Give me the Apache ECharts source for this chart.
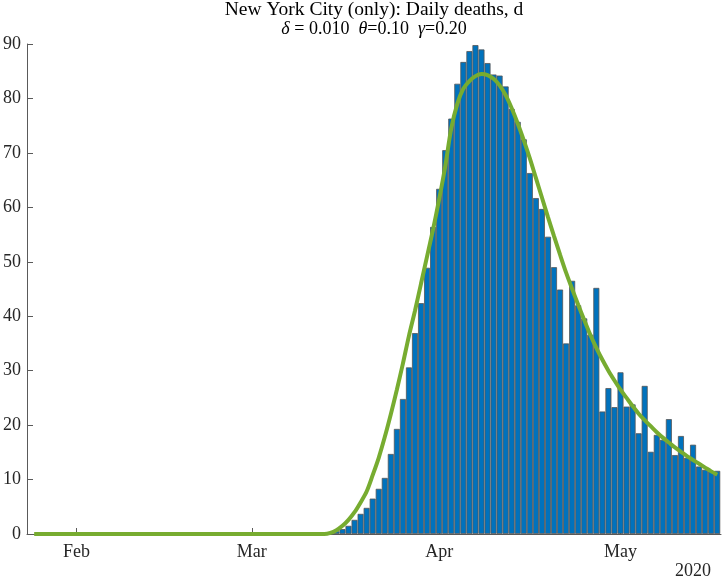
<!DOCTYPE html>
<html><head><meta charset="utf-8">
<script src="https://cdn.jsdelivr.net/npm/echarts@6/dist/echarts.min.js"></script>
<style>html,body{margin:0;padding:0;background:#fff}#c{width:725px;height:580px}</style>
</head><body><div id="c"></div><script>
// ---- data ----
const barStart = [2020, 2, 14]; // first bar: 14 Mar 2020 (daily bars)
const barValues = [
  0.3, 0.5, 0.9, 1.5, 2.6, 3.7, 4.8, 6.5, 8.3, 10.3,
  14.7, 19.3, 24.8, 30.6, 36.9, 42.4, 48.9, 56.4,
  63.4, 70.5, 76.3, 82.7, 86.7, 88.7, 89.8, 89.0, 86.5, 84.4,
  84.2, 82.2, 78.1, 75.7, 72.5, 66.3, 61.7, 59.7, 54.6, 49.0,
  44.9, 35.0, 46.5, 42.0, 39.6, 36.6, 45.2, 22.5, 26.8, 23.3,
  29.7, 23.4, 23.8, 18.5, 27.2, 15.1, 18.2, 17.3, 21.1, 14.5,
  18.0, 14.0, 16.4, 12.4, 11.8, 11.5, 11.6
];
const curveLeadIn = [2020, 0, 25]; // model curve starts flat at 0
const curveStart = [2020, 2, 13];  // daily model values from 13 Mar
const curveValues = [
  0.0, 0.2, 0.7, 1.5, 2.6, 4.0, 5.8, 7.8, 10.8, 14.0,
  17.8, 22.0, 26.5, 31.3, 36.4, 41.0, 46.0, 51.0, 56.0,
  61.5, 67.5, 74.5, 79.0, 81.8, 83.2, 84.1, 84.5, 84.3, 83.6,
  82.4, 80.6, 78.2, 75.4, 72.3, 69.0, 65.4, 61.8, 58.2, 54.7,
  51.3, 48.0, 45.0, 42.1, 39.3, 36.6, 34.2, 32.0, 30.0, 28.2,
  26.5, 25.0, 23.5, 22.1, 20.9, 19.8, 18.7, 17.7, 16.8, 15.9,
  15.1, 14.3, 13.6, 12.9, 12.2, 11.5, 10.9
];
const tickDates = [[2020, 1, 1], [2020, 2, 1], [2020, 3, 1], [2020, 4, 1]];
const tickLabels = ['Feb', 'Mar', 'Apr', 'May'];
const yearLabel = '2020';
const titleText = 'New York City (only): Daily deaths, d';
const subtitleText = '{i|δ} = 0.010  {i|θ}=0.10  {i|γ}=0.20';

// ---- build ----
const t = (a, off) => new Date(a[0], a[1], a[2] + (off || 0)).getTime();
const barData = barValues.map((v, i) => [t(barStart, i), v]);
const curveData = [[t(curveLeadIn), 0]].concat(curveValues.map((v, i) => [t(curveStart, i), v]));
const tickStamps = tickDates.map(d => t(d));
const axisMin = new Date(2020, 0, 23, 19, 30).getTime();
const axisMax = new Date(2020, 4, 17, 15, 0).getTime();

const FONT = 'Liberation Serif';
const AX = '#5a5a5a';
const TS = 19.5;
const SS = 18;
const chart = echarts.init(document.getElementById('c'), null, {renderer: 'canvas'});
chart.setOption({
  animation: false,
  backgroundColor: '#ffffff',
  title: [{
    text: titleText,
    subtext: subtitleText,
    left: 374, top: 0, padding: 0, itemGap: 0,
    textAlign: 'center',
    textStyle: {fontFamily: FONT, fontWeight: 'normal', fontSize: TS, color: '#000', lineHeight: 19},
    subtextStyle: {fontFamily: FONT, fontSize: SS, color: '#000', lineHeight: 19,
      rich: {i: {fontFamily: FONT, fontStyle: 'italic', fontSize: SS, color: '#000', lineHeight: 19}}}
  }, {
    text: yearLabel, right: 14, top: 562, padding: 0,
    textStyle: {fontFamily: FONT, fontWeight: 'normal', fontSize: 18, color: '#262626'}
  }],
  grid: {left: 24, right: 4, top: 44, bottom: 46, containLabel: false},
  xAxis: {
    type: 'value', min: axisMin, max: axisMax,
    axisLine: {show: true, lineStyle: {color: AX, width: 1}},
    axisTick: {show: true, inside: true, length: 6, customValues: tickStamps, lineStyle: {color: AX}},
    axisLabel: {customValues: tickStamps, margin: 9, fontFamily: FONT, fontSize: 18, color: '#262626',
      formatter: v => { const k = tickStamps.indexOf(v); return k >= 0 ? tickLabels[k] : ''; }},
    splitLine: {show: false}
  },
  yAxis: {
    type: 'value', min: 0, max: 90, interval: 10,
    axisLine: {show: true, lineStyle: {color: AX, width: 1}},
    axisTick: {show: true, inside: true, length: 6, lineStyle: {color: AX}},
    axisLabel: {margin: 6, fontFamily: FONT, fontSize: 18, color: '#262626'},
    splitLine: {show: false}
  },
  series: [{
    type: 'bar', data: barData, barWidth: 6,
    itemStyle: {color: '#0072BD', borderColor: '#555555', borderWidth: 0.8}
  }, {
    type: 'line', data: curveData, showSymbol: false, smooth: 0.3,
    lineStyle: {color: '#77AC30', width: 4}, z: 5
  }]
});
</script></body></html>
